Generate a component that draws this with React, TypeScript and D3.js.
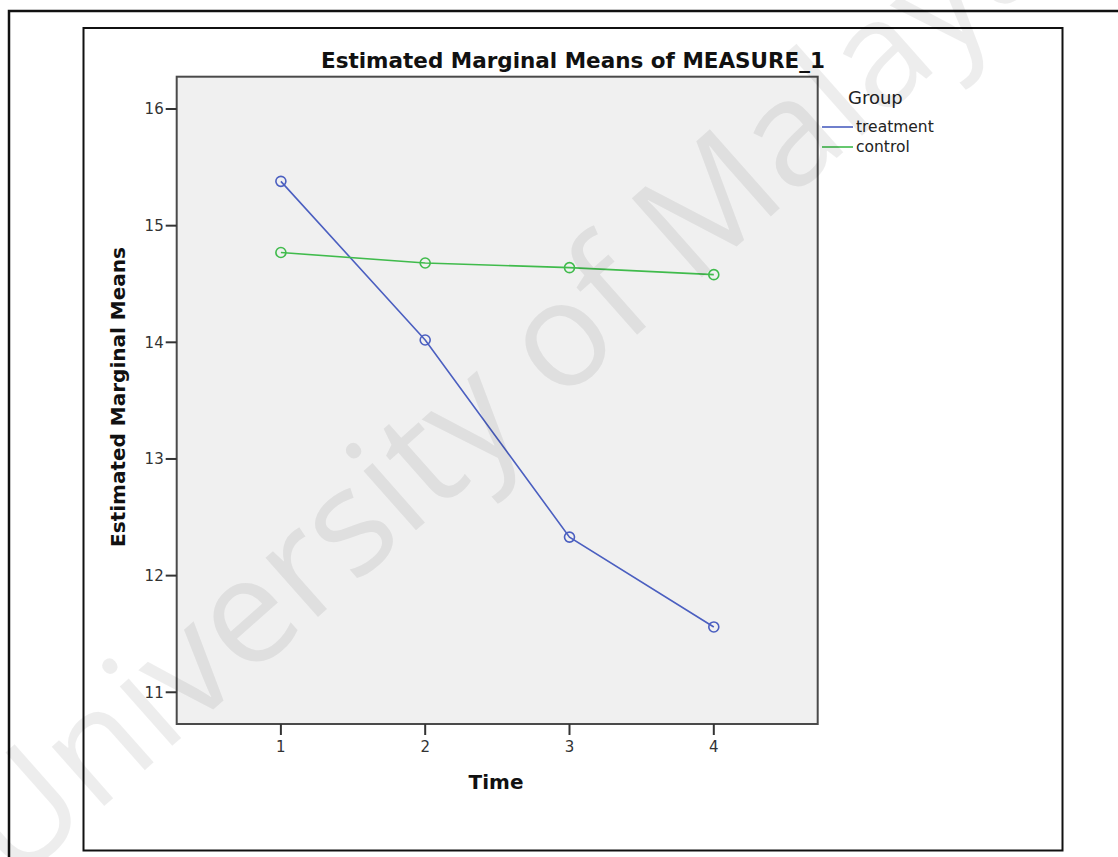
import React from "react";
import * as d3 from "d3";

const timePoints = [1, 2, 3, 4];
const treatmentMeans = [15.38, 14.02, 12.33, 11.56];
const controlMeans = [14.77, 14.68, 14.64, 14.58];
const yTicks = [11, 12, 13, 14, 15, 16];
const seriesNames = ["treatment", "control"];
const seriesColors = ["#4b5fc0", "#40bb4c"];

const W = 1118;
const H = 857;
const plot = { left: 176.7, right: 817.7, top: 76.7, bottom: 724 };

export default function App() {
  const x = d3.scaleLinear().domain([0.278, 4.72]).range([plot.left, plot.right]);
  const y = d3.scaleLinear().domain([10.728, 16.277]).range([plot.bottom, plot.top]);
  const line = d3
    .line<number>()
    .x((_, i) => x(timePoints[i]))
    .y((d) => y(d));
  const series = [treatmentMeans, controlMeans];
  const font = "'DejaVu Sans', sans-serif";

  return (
    <svg
      width={W}
      height={H}
      style={{ position: "absolute", left: 0, top: 0, background: "#fff" }}
    >
      <rect x={0} y={0} width={W} height={H} fill="#fff" />
      {/* outer frame */}
      <rect x={9} y={11} width={1200} height={900} fill="none" stroke="#111" strokeWidth={2.5} />
      {/* inner frame */}
      <rect x={83.5} y={28} width={979} height={822.5} fill="none" stroke="#111" strokeWidth={2} />

      {/* title */}
      <text x={573} y={68} textAnchor="middle" fontFamily={font} fontWeight="bold" fontSize={21.5} fill="#111">
        Estimated Marginal Means of MEASURE_1
      </text>

      {/* plot background */}
      <rect
        x={plot.left}
        y={plot.top}
        width={plot.right - plot.left}
        height={plot.bottom - plot.top}
        fill="#f0f0f0"
        stroke="#4a4a4a"
        strokeWidth={2}
      />

      {/* y ticks */}
      {yTicks.map((t) => (
        <g key={"y" + t}>
          <line x1={plot.left - 11} x2={plot.left} y1={y(t)} y2={y(t)} stroke="#333" strokeWidth={2} />
          <text x={plot.left - 13} y={y(t)} dy="0.36em" textAnchor="end" fontFamily={font} fontSize={15} fill="#333">
            {t}
          </text>
        </g>
      ))}

      {/* x ticks */}
      {timePoints.map((t) => (
        <g key={"x" + t}>
          <line x1={x(t)} x2={x(t)} y1={plot.bottom} y2={plot.bottom + 11} stroke="#333" strokeWidth={2} />
          <text x={x(t)} y={752} textAnchor="middle" fontFamily={font} fontSize={15} fill="#333">
            {t}
          </text>
        </g>
      ))}

      {/* axis titles */}
      <text x={496} y={789} textAnchor="middle" fontFamily={font} fontWeight="bold" fontSize={20} fill="#111">
        Time
      </text>
      <text
        transform="translate(125,397) rotate(-90)"
        textAnchor="middle"
        fontFamily={font}
        fontWeight="bold"
        fontSize={20}
        fill="#111"
      >
        Estimated Marginal Means
      </text>

      {/* series */}
      {series.map((vals, si) => (
        <g key={"s" + si}>
          <path d={line(vals) || ""} fill="none" stroke={seriesColors[si]} strokeWidth={1.6} />
          {vals.map((v, i) => (
            <circle
              key={i}
              cx={x(timePoints[i])}
              cy={y(v)}
              r={5}
              fill="none"
              stroke={seriesColors[si]}
              strokeWidth={1.6}
            />
          ))}
        </g>
      ))}

      {/* legend */}
      <text x={848} y={104} fontFamily={font} fontSize={18} fill="#222">
        Group
      </text>
      {seriesNames.map((n, i) => (
        <g key={n}>
          <line x1={822} x2={853} y1={127 + i * 20} y2={127 + i * 20} stroke={seriesColors[i]} strokeWidth={1.6} />
          <text x={856} y={127 + i * 20} dy="0.35em" fontFamily={font} fontSize={15.5} fill="#222">
            {n}
          </text>
        </g>
      ))}

      {/* watermark */}
      <text
        transform="translate(14,886) rotate(-41.5)"
        fontFamily="'Open Sans', sans-serif"
        fontSize={148}
        fill="#000"
        fillOpacity={0.07}
      >
        University of Malaya
      </text>
    </svg>
  );
}
